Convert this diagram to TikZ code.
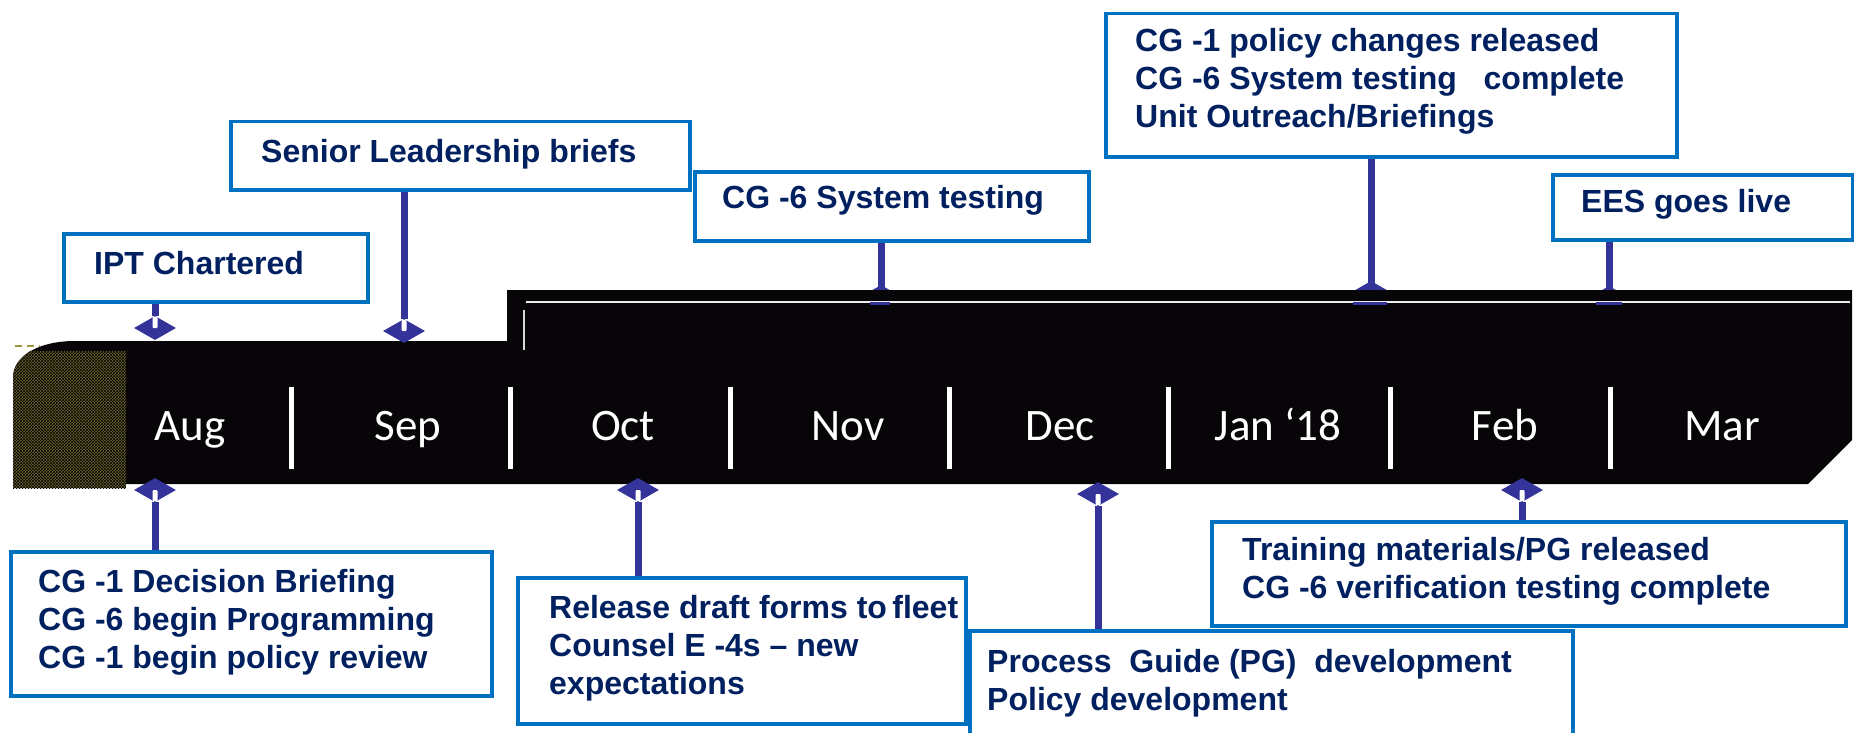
\documentclass[tikz,border=0pt]{standalone}
\usepackage{fontspec}
\setmainfont{Liberation Sans}
\newfontfamily\monthfont{Carlito}
\usetikzlibrary{shapes.geometric,patterns}
\definecolor{boxblue}{HTML}{0070C0}
\definecolor{txtnavy}{HTML}{002060}
\definecolor{connblue}{HTML}{333399}
\definecolor{barblack}{HTML}{080508}
\definecolor{olivedot}{HTML}{A09440}
\definecolor{olivefill}{HTML}{6E6632}
\tikzset{
  evbox/.style={draw=boxblue, line width=3.5pt, fill=white, inner sep=0pt, anchor=north west},
  evtext/.style={anchor=base west, inner sep=0pt, text=txtnavy, align=left,
    font=\bfseries\fontsize{32}{38}\selectfont},
  monthlbl/.style={anchor=base, inner sep=0pt, text=white, font=\monthfont\fontsize{45}{54}\selectfont},
  dmd/.style={shape=diamond, fill=connblue, minimum width=42pt, minimum height=24pt, inner sep=0pt},
  connline/.style={draw=connblue, line width=7pt},
  sepline/.style={draw=white, line width=5pt},
  notch/.style={fill=white, rounded corners=1pt}
}
\begin{document}
\begin{tikzpicture}[x=1pt,y=-1pt]
\useasboundingbox (0,0) rectangle (1854,733);
\clip (0,0) rectangle (1854,733);

% ---------- boxes ----------
\node[evbox, minimum width=304pt, minimum height=68pt] (ipt) at (62,232) {};
\node[evbox, minimum width=459pt, minimum height=68pt] (sen) at (229,120) {};
\node[evbox, minimum width=394pt, minimum height=69pt] (sys) at (693,170) {};
\node[evbox, minimum width=571pt, minimum height=143pt] (top) at (1104,12) {};
\node[evbox, minimum width=300pt, minimum height=65pt] (ees) at (1551,173) {};
\node[evbox, minimum width=481pt, minimum height=144pt] (cgone) at (9,550) {};
\node[evbox, minimum width=448pt, minimum height=146pt] (rel) at (516,576) {};
\node[evbox, minimum width=603pt, minimum height=125pt] (proc) at (968,629) {};
\node[evbox, minimum width=634pt, minimum height=104pt] (train) at (1210,520) {};

% ---------- diamonds hidden behind the raised bar ----------
\node[dmd] (dnov) at (881,297) {};
\node[dmd] (djan) at (1371,293) {};
\node[dmd] (dmar) at (1609,298) {};

% connectors to hidden diamonds
\draw[connline] (sys.south -| dnov.center) -- (dnov.center);
\draw[connline] (top.south -| djan.center) -- (djan.center);
\draw[connline] (ees.south -| dmar.center) -- (dmar.center);

% ---------- timeline bar ----------
\fill[barblack] (13,484) -- (13,378) .. controls (13,355) and (40,341) .. (75,341)
  -- (507,341) -- (507,290) -- (1852,290) -- (1852,440) -- (1808,484) -- cycle;
\begin{scope}
  \clip (13,484) -- (13,378) .. controls (13,355) and (40,341) .. (75,341)
    -- (126,341) -- (126,490) -- (13,490) -- cycle;
  \fill[olivefill] (13,351) rectangle (126,488);
  \fill[pattern=crosshatch, pattern color=black] (13,351) rectangle (126,488);
\end{scope}
\draw[olivedot, line width=2pt, dash pattern=on 7pt off 5pt] (15,346) -- (40,346);
\draw[white!85!gray, line width=1.5pt] (526,302) -- (1850,302);
\draw[white!70!gray, line width=1.2pt] (524,310) -- (524,350);
\draw[connblue, line width=2.5pt] (870,303.5) -- (890,303.5);
\draw[connblue, line width=2.5pt] (1353,303.5) -- (1387,303.5);
\draw[connblue, line width=2.5pt] (1596,303.5) -- (1622,303.5);

% month separators
\foreach \sx in {291,510,730,949,1168,1390,1610}
  \draw[sepline] (\sx,387) -- (\sx,469);

% month labels
\node[monthlbl] (maug) at (190,440) {Aug};
\node[monthlbl] (msep) at (408,440) {Sep};
\node[monthlbl] (moct) at (623,440) {Oct};
\node[monthlbl] (mnov) at (848,440) {Nov};
\node[monthlbl] (mdec) at (1060,440) {Dec};
\node[monthlbl] (mjan) at (1278,440) {Jan ‘18};
\node[monthlbl] (mfeb) at (1505,440) {Feb};
\node[monthlbl] (mmar) at (1722,440) {Mar};

% ---------- visible diamonds ----------
\node[dmd] (daug) at (155,328) {};
\node[dmd] (dsep) at (404,331) {};
\node[dmd] (baug) at (155,490) {};
\node[dmd] (boct) at (638,490) {};
\node[dmd] (bdec) at (1098,494) {};
\node[dmd] (bfeb) at (1522,490) {};

% connectors
\draw[connline] (ipt.south -| daug.center) -- (daug.north);
\draw[connline] (sen.south -| dsep.center) -- (dsep.north);
\draw[connline] (baug.south) -- (baug.south |- cgone.north);
\draw[connline] (boct.south) -- (boct.south |- rel.north);
\draw[connline] (bdec.south) -- (bdec.south |- proc.north);
\draw[connline] (bfeb.south) -- (bfeb.south |- train.north);

% notches
\fill[notch] ([xshift=-2.5pt,yshift=-1pt]daug.north) rectangle ([xshift=2.5pt]daug.center);
\fill[notch] ([xshift=-2.5pt,yshift=-1pt]dsep.north) rectangle ([xshift=2.5pt]dsep.center);
\fill[notch] ([xshift=-2.5pt]baug.center) rectangle ([xshift=2.5pt,yshift=1pt]baug.south);
\fill[notch] ([xshift=-2.5pt]boct.center) rectangle ([xshift=2.5pt,yshift=1pt]boct.south);
\fill[notch] ([xshift=-2.5pt]bdec.center) rectangle ([xshift=2.5pt,yshift=1pt]bdec.south);
\fill[notch] ([xshift=-2.5pt]bfeb.center) rectangle ([xshift=2.5pt,yshift=1pt]bfeb.south);

% ---------- texts (base anchor = baseline of the last line) ----------
\node[evtext] (tipt) at (94,274) {IPT Chartered};
\node[evtext] (tsen) at (261,162) {Senior Leadership briefs};
\node[evtext] (tsys) at (722,208) {CG -6 System testing};
\node[evtext] (ttop) at (1135,128) {CG -1 policy changes released\\CG -6 System testing \ \ complete\\Unit Outreach/Briefings};
\node[evtext] (tees) at (1581,212) {EES goes live};
\node[evtext] (tcgone) at (38,668) {CG -1 Decision Briefing\\CG -6 begin Programming\\CG -1 begin policy review};
\node[evtext] (trel) at (549,694) {Release draft forms to\,fleet\\Counsel E -4s -- new\\expectations};
\node[evtext] (tproc) at (987,710) {Process \ Guide (PG) \ development\\Policy development};
\node[evtext] (ttrain) at (1242,598) {Training materials/PG released\\CG -6 verification testing complete};
\end{tikzpicture}
\end{document}
